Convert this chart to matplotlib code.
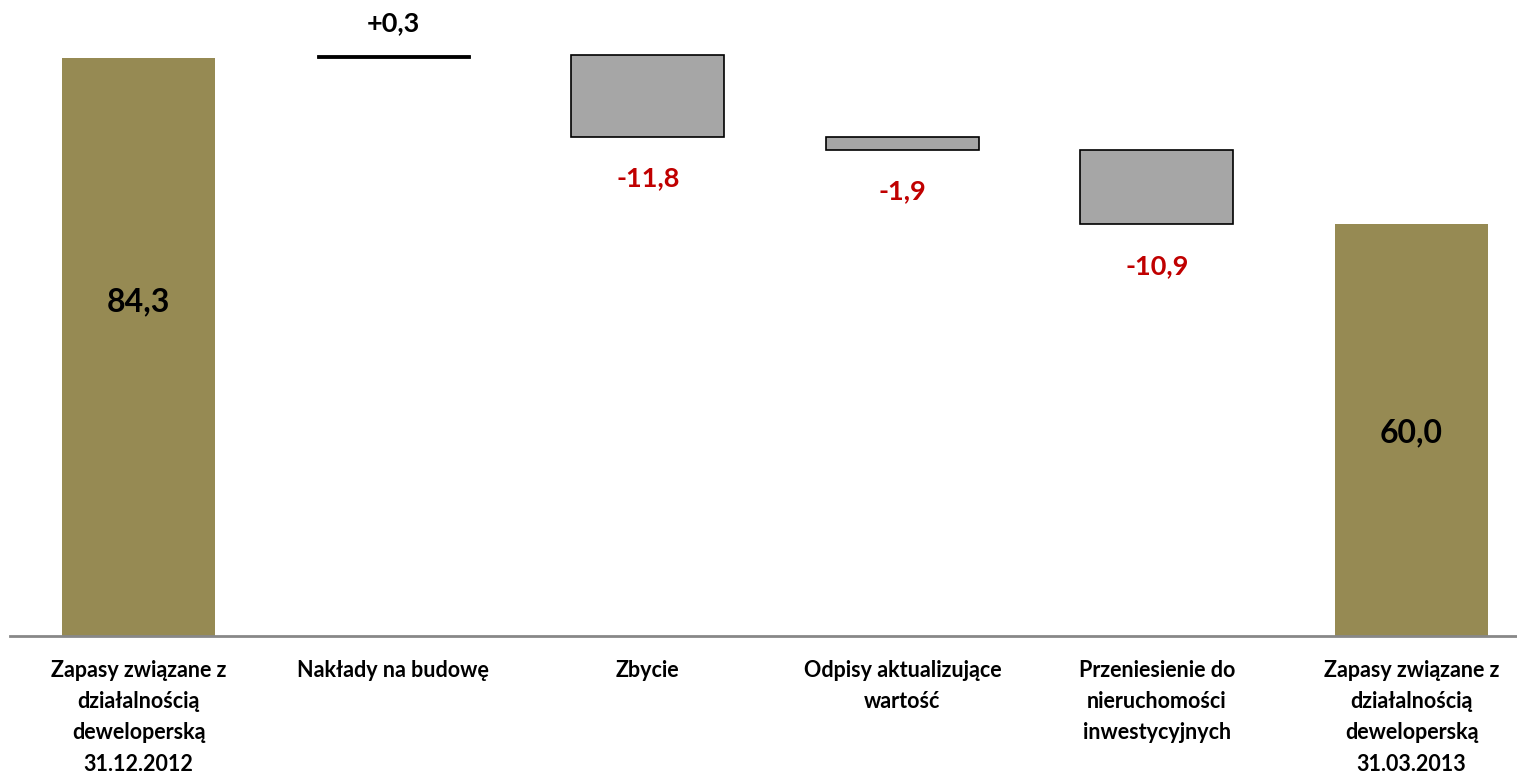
import matplotlib
matplotlib.use("Agg")
import matplotlib.pyplot as plt

plt.rcParams['font.family'] = ['Lato', 'DejaVu Sans']
plt.rcParams['font.weight'] = 'bold'

# Waterfall of development inventory (mln PLN)
categories = [
    "Zapasy związane z\ndziałalnością\ndeweloperską\n31.12.2012",
    "Nakłady na budowę",
    "Zbycie",
    "Odpisy aktualizujące\nwartość",
    "Przeniesienie do\nnieruchomości\ninwestycyjnych",
    "Zapasy związane z\ndziałalnością\ndeweloperską\n31.03.2013",
]
opening = 84.3
changes = [0.3, -11.8, -1.9, -10.9]
closing = 60.0
value_labels = ["84,3", "+0,3", "-11,8", "-1,9", "-10,9", "60,0"]

OLIVE = "#968A53"
GREY = "#A6A6A6"
RED = "#C00000"

fig = plt.figure(figsize=(15.17, 7.73), dpi=100)
ax = fig.add_axes([10 / 1517, 0.1766, 1 - 10 / 1517, 0.8234])
ax.set_xlim(-0.5047, 5.414)
ax.set_ylim(0, 92.68)
width = 0.601

# opening total
ax.bar(0, opening, width=width, color=OLIVE, zorder=2)
ax.text(0, opening * 0.578, value_labels[0], ha='center', va='center',
        fontsize=23, color='black', fontweight='bold')

# running changes
level = opening
for i, d in enumerate(changes, start=1):
    lo, hi = min(level, level + d), max(level, level + d)
    if d > 0:
        ax.bar(i, hi - lo, bottom=lo, width=width, color='black',
               edgecolor='black', linewidth=0.6, zorder=2)
        ax.annotate(value_labels[i], (i, hi), xytext=(0, 23),
                    textcoords='offset points', ha='center', va='center',
                    fontsize=19.5, color='black', fontweight='bold')
    else:
        ax.bar(i, hi - lo, bottom=lo, width=width, color=GREY,
               edgecolor='black', linewidth=1.2, zorder=2)
        ax.annotate(value_labels[i], (i, lo), xytext=(0, -30),
                    textcoords='offset points', ha='center', va='center',
                    fontsize=19.5, color=RED, fontweight='bold')
    level += d

# closing total
ax.bar(5, closing, width=width, color=OLIVE, zorder=2)
ax.text(5, closing * 0.494, value_labels[5], ha='center', va='center',
        fontsize=23, color='black', fontweight='bold')

# category labels under the axis
for i, lab in enumerate(categories):
    ax.annotate(lab, (i, 0), xytext=(0, -17), textcoords='offset points',
                ha='center', va='top', fontsize=15.5, fontweight='bold',
                linespacing=1.6, annotation_clip=False)

for s in ['top', 'right', 'left']:
    ax.spines[s].set_visible(False)
ax.spines['bottom'].set_color('#888888')
ax.spines['bottom'].set_linewidth(2)
ax.set_xticks([])
ax.set_yticks([])
ax.patch.set_alpha(0)

fig.savefig("out.png", dpi=100, facecolor='white')
